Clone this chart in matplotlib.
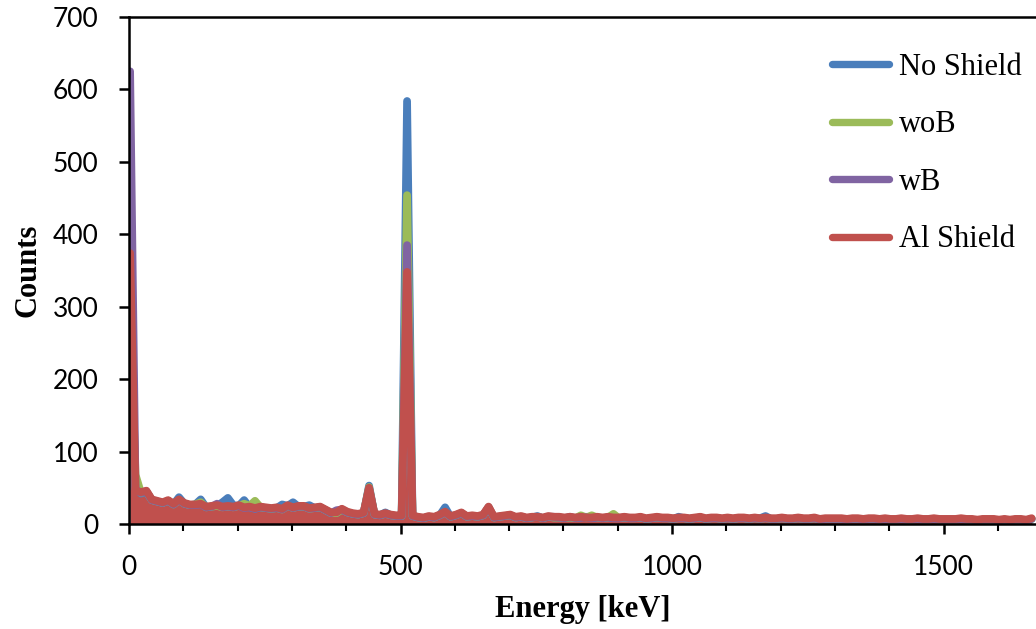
import numpy as np
import matplotlib
matplotlib.use("Agg")
import matplotlib.pyplot as plt
from matplotlib.ticker import MultipleLocator
from matplotlib.lines import Line2D

# ---- data (counts per 10 keV bin) ----
energy_start = 2
energy_step = 10
energy = np.arange(energy_start, 1670, energy_step)

series_names = ["No Shield", "woB", "wB", "Al Shield"]
series_colors = ["#4A7EBB", "#9BBB59", "#8064A2", "#C0504D"]

no_shield = [
    300, 52, 42, 44, 33, 31, 29, 32, 27, 37,
    28, 26, 27, 34, 23, 24, 25, 30, 36, 26,
    25, 33, 23, 21, 23, 22, 21, 22, 27, 25,
    30, 24, 24, 26, 22, 23, 19, 15, 15, 20,
    16, 14, 13, 15, 53, 13, 12, 16, 12, 11,
    11, 584, 11, 9, 8, 10, 9, 12, 23, 10,
    12, 15, 10, 11, 10, 12, 23, 9, 10, 11,
    12, 9, 10, 8, 9, 11, 8, 10, 9, 9,
    8, 9, 8, 9, 10, 8, 9, 8, 9, 8,
    8, 9, 8, 8, 9, 7, 8, 9, 8, 8,
    7, 10, 8, 7, 8, 9, 7, 8, 8, 7,
    8, 7, 8, 8, 7, 8, 8, 11, 7, 7,
    8, 7, 7, 8, 7, 7, 8, 6, 7, 7,
    7, 7, 6, 7, 7, 6, 7, 7, 6, 7,
    6, 6, 7, 6, 6, 7, 6, 6, 7, 6,
    6, 6, 6, 7, 6, 6, 5, 6, 6, 6,
    5, 6, 5, 6, 6, 5, 7,
]

wo_b = [
    300, 68, 43, 45, 33, 31, 29, 32, 27, 33,
    28, 26, 27, 30, 23, 24, 25, 23, 24, 23,
    25, 28, 25, 32, 23, 22, 21, 22, 20, 25,
    22, 24, 24, 21, 22, 23, 19, 15, 15, 20,
    16, 14, 13, 15, 51, 13, 12, 14, 12, 11,
    11, 454, 11, 9, 8, 10, 9, 12, 16, 10,
    12, 15, 10, 11, 10, 12, 23, 9, 10, 11,
    12, 9, 10, 8, 9, 10, 8, 10, 9, 9,
    8, 9, 8, 12, 9, 12, 9, 8, 9, 14,
    8, 9, 8, 8, 9, 7, 8, 9, 8, 8,
    7, 8, 8, 7, 8, 9, 7, 8, 8, 7,
    8, 7, 8, 8, 7, 8, 7, 8, 7, 7,
    8, 7, 7, 8, 7, 7, 8, 6, 7, 7,
    7, 7, 6, 7, 7, 6, 7, 7, 6, 7,
    6, 6, 7, 6, 6, 7, 6, 6, 7, 6,
    6, 6, 6, 7, 6, 6, 5, 6, 6, 6,
    5, 6, 5, 6, 6, 5, 7,
]

w_b = [
    625, 48, 43, 45, 33, 31, 29, 32, 27, 33,
    28, 26, 26, 27, 23, 24, 28, 23, 24, 23,
    25, 22, 23, 21, 23, 22, 21, 22, 20, 25,
    22, 24, 24, 21, 22, 23, 19, 15, 19, 20,
    16, 14, 13, 15, 49, 13, 12, 14, 12, 11,
    11, 385, 11, 9, 8, 10, 9, 12, 16, 10,
    12, 15, 10, 11, 10, 12, 23, 9, 10, 11,
    12, 9, 10, 8, 9, 10, 8, 10, 10, 9,
    8, 10, 8, 9, 9, 8, 9, 8, 9, 8,
    8, 9, 8, 8, 9, 7, 8, 9, 8, 8,
    7, 8, 8, 7, 8, 9, 7, 8, 8, 7,
    8, 7, 8, 8, 7, 8, 7, 8, 7, 7,
    8, 7, 7, 8, 7, 7, 8, 6, 7, 7,
    7, 7, 6, 7, 7, 6, 7, 7, 6, 7,
    6, 6, 7, 6, 6, 7, 6, 6, 7, 6,
    6, 6, 6, 7, 6, 6, 5, 6, 6, 6,
    5, 6, 5, 6, 6, 5, 7,
]

al_shield = [
    374, 46, 44, 46, 34, 32, 30, 33, 28, 34,
    29, 27, 27, 28, 24, 25, 26, 24, 25, 24,
    26, 23, 24, 22, 24, 23, 22, 23, 21, 26,
    23, 25, 25, 22, 23, 24, 20, 16, 16, 21,
    17, 15, 14, 16, 50, 14, 13, 15, 13, 12,
    12, 348, 12, 10, 9, 11, 10, 13, 17, 11,
    13, 16, 11, 12, 11, 13, 24, 10, 11, 12,
    13, 10, 11, 9, 10, 10, 9, 11, 10, 10,
    9, 10, 9, 10, 9, 9, 10, 9, 10, 9,
    9, 10, 9, 9, 10, 8, 9, 10, 9, 9,
    8, 9, 9, 8, 9, 10, 8, 9, 9, 8,
    9, 8, 9, 9, 8, 9, 8, 9, 8, 8,
    9, 8, 8, 9, 8, 8, 9, 7, 8, 8,
    8, 8, 7, 8, 8, 7, 8, 8, 7, 8,
    7, 7, 8, 7, 7, 8, 7, 7, 8, 7,
    7, 7, 7, 8, 7, 7, 6, 7, 7, 7,
    6, 7, 6, 7, 7, 6, 8,
]

all_series = [no_shield, wo_b, w_b, al_shield]

x_ticks_major = [0, 500, 1000, 1500]
y_ticks = [0, 100, 200, 300, 400, 500, 600, 700]

# ---- figure ----
W, H = 1036, 629
fig = plt.figure(figsize=(W / 100, H / 100), dpi=100)
ax = fig.add_axes([129 / W, 1 - 524 / H, 1 - 129 / W, (524 - 17) / H])

lw = 5.6
for vals, name, col in zip(all_series, series_names, series_colors):
    ax.fill_between(energy, 0, vals, color=col, linewidth=0)
    ax.plot(energy, vals, color=col, lw=lw, solid_joinstyle="round",
            solid_capstyle="round")

ax.set_xlim(0, 1670)
ax.set_ylim(0, 700)
ax.set_xticks(x_ticks_major)
ax.xaxis.set_minor_locator(MultipleLocator(100))
ax.set_yticks(y_ticks)

for s in ["left", "bottom", "top"]:
    ax.spines[s].set_linewidth(1.8)
    ax.spines[s].set_color("black")
ax.spines["right"].set_visible(False)

ax.tick_params(axis="both", which="major", direction="out", length=7,
               width=1.8, pad=15, labelsize=19)
ax.tick_params(axis="x", which="minor", direction="out", length=5, width=1.5)
for lab in ax.get_xticklabels() + ax.get_yticklabels():
    lab.set_fontfamily("Lato")

ax.set_xlabel("Energy [keV]", fontfamily="Liberation Serif", fontweight="bold",
              fontsize=22, labelpad=11)
ax.set_ylabel("Counts", fontfamily="Liberation Serif", fontweight="bold",
              fontsize=22, labelpad=7)

handles = [Line2D([0], [0], color=c, lw=5.3, solid_capstyle="round")
           for c in series_colors]
leg = ax.legend(handles, series_names, loc="upper left",
                bbox_to_anchor=(832 / W, 1 - 53 / H), bbox_transform=fig.transFigure,
                frameon=False, handlelength=1.87, handletextpad=0.33,
                labelspacing=0.93, borderaxespad=0, borderpad=0,
                prop={"family": "Liberation Serif", "size": 22})

fig.savefig("out.png", dpi=100)
